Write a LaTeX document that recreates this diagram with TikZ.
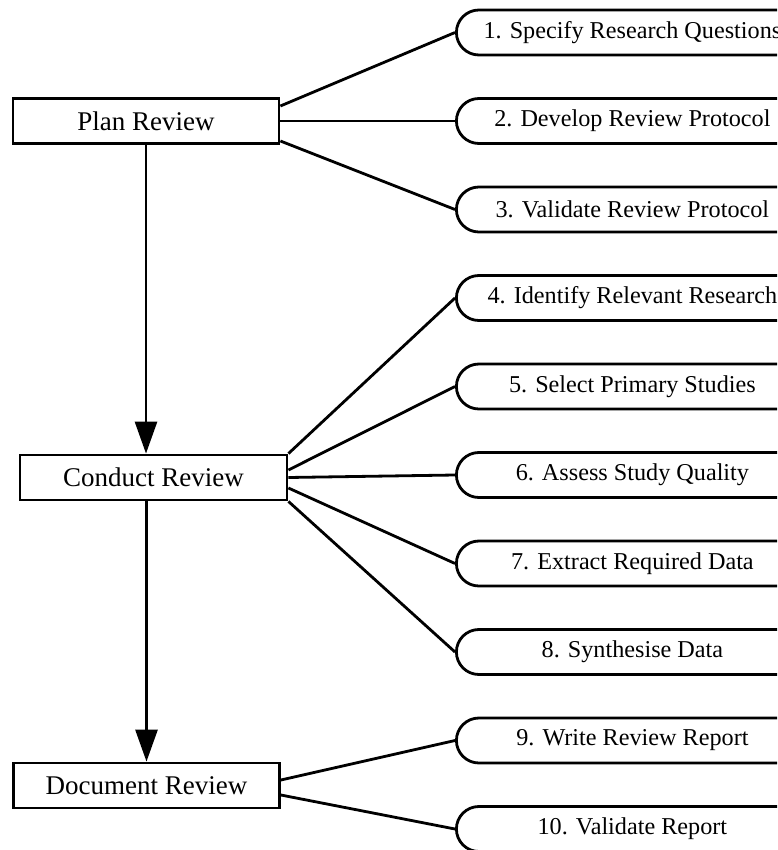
\documentclass[tikz,border=0pt]{standalone}
\usepackage{fontspec}
\setmainfont{Liberation Serif}
\usetikzlibrary{shapes.misc,arrows.meta}
\tikzset{
  phasebox/.style={draw,line width=1.4pt,minimum width=133pt,minimum height=22.5pt,inner sep=0pt,
    font=\fontsize{13.5pt}{16pt}\selectfont},
  taskoval/.style={draw,rounded rectangle,line width=1.4pt,minimum width=176pt,minimum height=22.5pt,
    inner sep=0pt,anchor=west,font=\fontsize{12.1pt}{15pt}\selectfont},
  link/.style={line width=1.4pt},
  flow/.style={line width=1.4pt,-{Triangle[length=16pt,width=11pt]}}
}
\begin{document}
\begin{tikzpicture}[x=0.5pt,y=-0.5pt]
  \useasboundingbox (0,0) rectangle (777,850);
  \clip (0,0) rectangle (777,850);
  % the three phases
  \node[phasebox] (plan) at (146,121) {Plan Review};
  \node[phasebox,minimum width=133.5pt] (conduct) at (153.5,477.5) {Conduct Review};
  \node[phasebox] (document) at (146.5,785.5) {Document Review};
  % tasks, cut off at the right edge
  \foreach \i/\t in {1/{1. Specify Research Questions},2/{2. Develop Review Protocol},
      3/{3. Validate Review Protocol},4/{4. Identify Relevant Research},5/{5. Select Primary Studies},
      6/{6. Assess Study Quality},7/{7. Extract Required Data},8/{8. Synthesise Data},
      9/{9. Write Review Report},10/{10. Validate Report}}
    { \node[taskoval] (s\i) at (455,{32.5+88.5*(\i-1)}) {\t}; }
  % phase order
  \draw[flow] (plan.south) -- (plan.south |- conduct.north);
  \draw[flow] (conduct.south -| document) -- (document.north);
  % plan tasks
  \draw[link] ([yshift=7.5pt]plan.east) -- (s1.west);
  \draw[link] (plan.east) -- (s2.west);
  \draw[link] ([yshift=-10pt]plan.east) -- (s3.west);
  % conduct tasks
  \draw[link] (conduct.north east) -- (s4.west);
  \draw[link] ([yshift=3.75pt]conduct.east) -- (s5.west);
  \draw[link] (conduct.east) -- (s6.west);
  \draw[link] ([yshift=-5.25pt]conduct.east) -- (s7.west);
  \draw[link] (conduct.south east) -- (s8.west);
  % document tasks
  \draw[link] ([yshift=2.75pt]document.east) -- (s9.west);
  \draw[link] ([yshift=-4.75pt]document.east) -- (s10.west);
\end{tikzpicture}
\end{document}
